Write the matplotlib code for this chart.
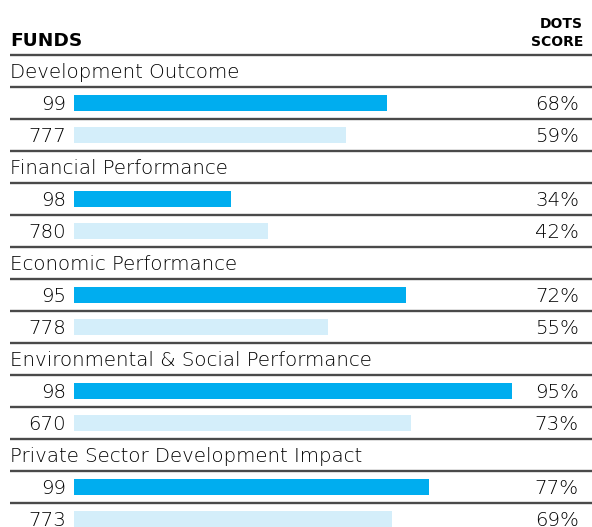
import matplotlib
matplotlib.use("Agg")
import matplotlib.pyplot as plt

# data
categories = ["Development Outcome", "Financial Performance", "Economic Performance",
              "Environmental & Social Performance", "Private Sector Development Impact"]
funds_dark = [99, 98, 95, 98, 99]
funds_light = [777, 780, 778, 670, 773]
score_dark = [68, 34, 72, 95, 77]
score_light = [59, 42, 55, 73, 69]

DARK = "#00adef"
LIGHT = "#d4eefa"
RULE = "#4a4a4a"
FAM = "DejaVu Sans"

W, H = 592, 527
fig = plt.figure(figsize=(W / 100, H / 100), dpi=100)
ax = fig.add_axes([0, 0, 1, 1])

# x in percent: 0% at px 74, 100% at px 535; y in rows of 32 px, row 0 centred at px 71
PX_PER_PCT = 4.61
def px(x):
    return (x - 74) / PX_PER_PCT

ax.set_xlim(px(0), px(W))
ax.set_ylim((H - 71) / 32, -71 / 32)
ax.axis("off")

body = dict(fontsize=14.2, family=FAM, fontweight=250, va="baseline", color="#000000")

row = 0
for i, cat in enumerate(categories):
    ax.text(px(10), row + 0.22, cat, ha="left", **body)
    for j, (fund, score, col) in enumerate([(funds_dark[i], score_dark[i], DARK),
                                            (funds_light[i], score_light[i], LIGHT)]):
        r = row + 1 + j
        ax.barh(r, score, height=0.52, left=0, color=col)
        ax.text(px(66), r + 0.23, str(fund), ha="right", **body)
        ax.text(px(579), r + 0.23, f"{score}%", ha="right", **body)
    row += 3

# horizontal rules between rows
ax.hlines([r - 0.5 for r in range(row + 1)], px(10), px(W), color=RULE, lw=1.7)

# header
ax.text(px(10), (46 - 71) / 32, "FUNDS", fontsize=13.3, family=FAM, fontweight="bold",
        ha="left", va="baseline", color="#000000")
ax.text(px(583), (28 - 71) / 32, "DOTS", fontsize=10, family=FAM, fontweight="bold",
        ha="right", va="baseline", color="#000000")
ax.text(px(583), (46 - 71) / 32, "SCORE", fontsize=10, family=FAM, fontweight="bold",
        ha="right", va="baseline", color="#000000")

fig.savefig("out.png", dpi=100)
